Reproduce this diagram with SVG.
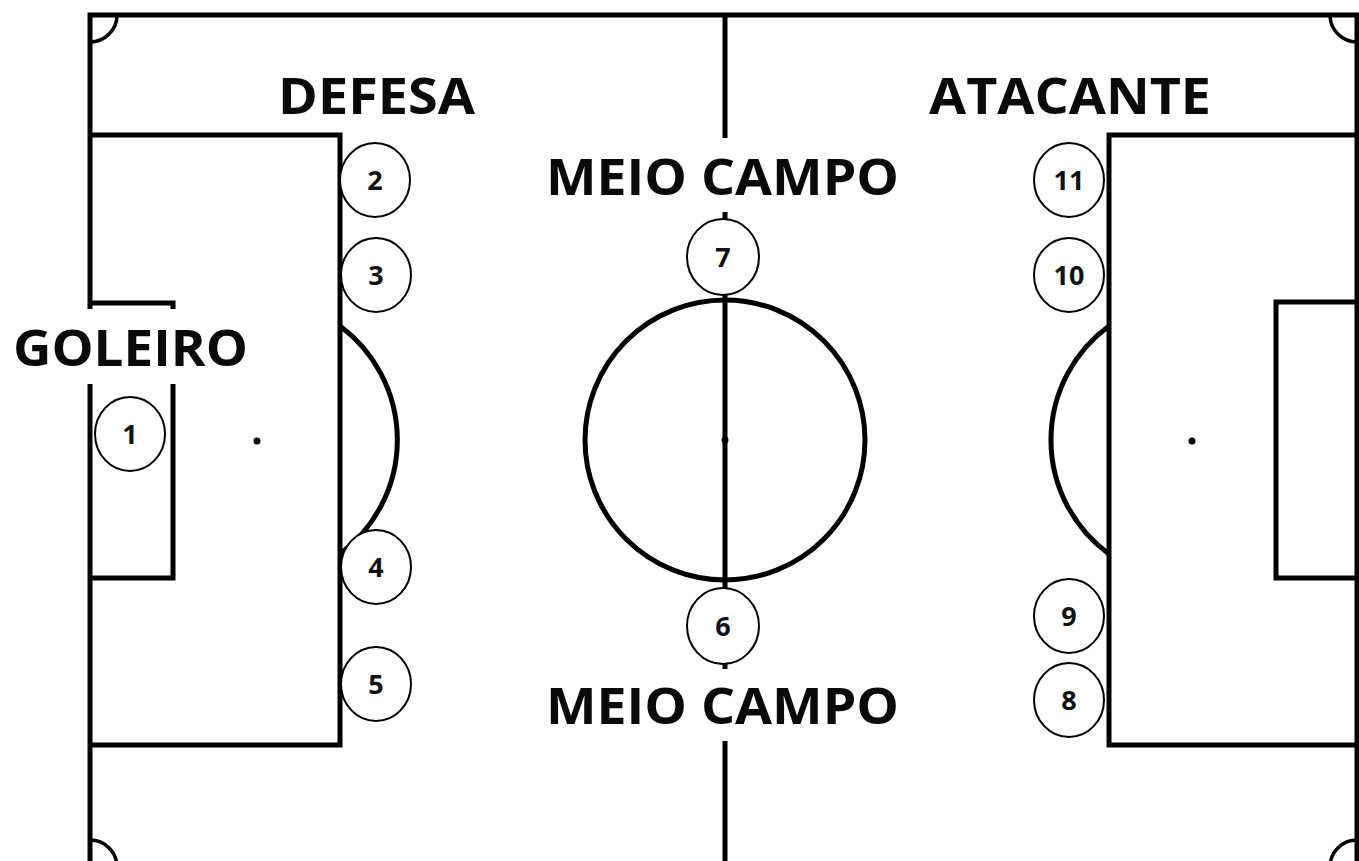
<svg xmlns="http://www.w3.org/2000/svg" width="1359" height="861" viewBox="0 0 1359 861">
  <style>
    .ln { fill: none; stroke: #000; stroke-width: 5; stroke-linejoin: miter; }
    .thin { fill: none; stroke: #000; stroke-width: 3.5; }
    .spot { fill: #000; }
    .mask { fill: #fff; stroke: none; }
    .lbl { font-family: "Open Sans", "Noto Sans", "Liberation Sans", sans-serif; font-weight: 700; font-size: 51px; fill: #0a0a0a; }
    .pc { fill: #fff; stroke: #000; stroke-width: 2; }
    .num { font-family: "Open Sans", "Noto Sans", "Liberation Sans", sans-serif; font-weight: 700; font-size: 27px; fill: #111; text-anchor: middle; }
  </style>
  <rect x="0" y="0" width="1359" height="861" fill="#fff"/>

  <g id="field">
    <rect class="ln" x="90" y="15" width="1267" height="852"/>
    <line class="ln" x1="725" y1="15" x2="725" y2="861"/>
    <circle class="ln" cx="725" cy="440" r="140"/>
    <circle class="spot" cx="725" cy="440" r="3.5"/>
    <polyline class="ln" points="90,135 340,135 340,745 90,745"/>
    <polyline class="ln" points="90,303 173,303 173,578 90,578"/>
    <circle class="spot" cx="257" cy="441" r="3.5"/>
    <path class="ln" d="M340,326 A142,142 0 0 1 340,554"/>
    <polyline class="ln" points="1357,135 1109,135 1109,745 1357,745"/>
    <polyline class="ln" points="1357,302 1276,302 1276,578 1357,578"/>
    <circle class="spot" cx="1192" cy="441" r="3.5"/>
    <path class="ln" d="M1109,326 A141,141 0 0 0 1109,554"/>
    <path class="thin" d="M117,15 A27,27 0 0 1 90,42"/>
    <path class="thin" d="M1357,42 A27,27 0 0 1 1330,15"/>
    <path class="thin" d="M90,840 A27,27 0 0 1 117,867"/>
    <path class="thin" d="M1330,867 A27,27 0 0 1 1357,840"/>
  </g>

  <g id="connectors"></g>

  <g id="label-defesa">
    <text class="lbl" x="278" y="114" textLength="197" lengthAdjust="spacingAndGlyphs">DEFESA</text>
  </g>
  <g id="label-atacante">
    <text class="lbl" x="929" y="114" textLength="282" lengthAdjust="spacingAndGlyphs">ATACANTE</text>
  </g>
  <g id="label-goleiro">
    <rect class="mask" x="0" y="309" width="252" height="75"/>
    <text class="lbl" x="13" y="366" textLength="235" lengthAdjust="spacingAndGlyphs">GOLEIRO</text>
  </g>
  <g id="label-meio-top">
    <rect class="mask" x="542" y="138" width="362" height="74"/>
    <text class="lbl" x="546" y="195" textLength="353" lengthAdjust="spacingAndGlyphs">MEIO CAMPO</text>
  </g>
  <g id="label-meio-bottom">
    <rect class="mask" x="542" y="669" width="362" height="72"/>
    <text class="lbl" x="546" y="724" textLength="353" lengthAdjust="spacingAndGlyphs">MEIO CAMPO</text>
  </g>

  <g id="p1"><ellipse class="pc" cx="130" cy="434" rx="35" ry="37"/><text class="num" x="130" y="444">1</text></g>
  <g id="p2"><ellipse class="pc" cx="375" cy="180" rx="35" ry="37"/><text class="num" x="375" y="190">2</text></g>
  <g id="p3"><ellipse class="pc" cx="376" cy="275" rx="35" ry="37"/><text class="num" x="376" y="285">3</text></g>
  <g id="p4"><ellipse class="pc" cx="376" cy="567" rx="35" ry="37"/><text class="num" x="376" y="577">4</text></g>
  <g id="p5"><ellipse class="pc" cx="376" cy="684" rx="35" ry="37"/><text class="num" x="376" y="694">5</text></g>
  <g id="p6"><ellipse class="pc" cx="723" cy="626" rx="36" ry="38"/><text class="num" x="723" y="636">6</text></g>
  <g id="p7"><ellipse class="pc" cx="723" cy="257" rx="36" ry="38"/><text class="num" x="723" y="267">7</text></g>
  <g id="p8"><ellipse class="pc" cx="1069" cy="700" rx="35" ry="37"/><text class="num" x="1069" y="710">8</text></g>
  <g id="p9"><ellipse class="pc" cx="1069" cy="616" rx="35" ry="37"/><text class="num" x="1069" y="626">9</text></g>
  <g id="p10"><ellipse class="pc" cx="1069" cy="275" rx="35" ry="37"/><text class="num" x="1069" y="285">10</text></g>
  <g id="p11"><ellipse class="pc" cx="1069" cy="180" rx="35" ry="37"/><text class="num" x="1069" y="190">11</text></g>
</svg>
